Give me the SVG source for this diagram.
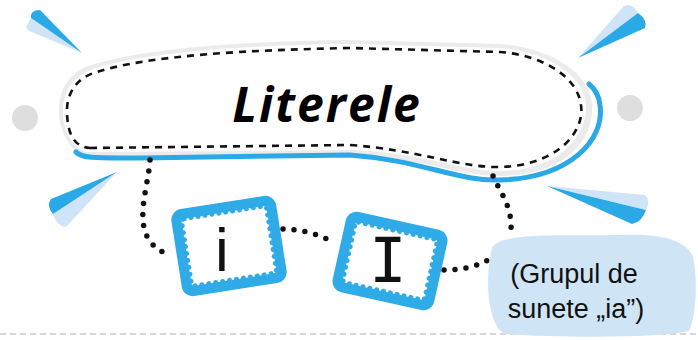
<svg xmlns="http://www.w3.org/2000/svg" width="698" height="340" viewBox="0 0 698 340">
<defs>
<style>
.blue{fill:#2aa9e6}
.pale{fill:#cfe4f6}
.dots{fill:none;stroke:#111;stroke-width:5.5;stroke-linecap:round;stroke-dasharray:0 11}
.frame{fill:#2fabe8}
.inner{fill:#fff;stroke:#2fabe8;stroke-width:5;stroke-linecap:round;stroke-dasharray:0 7}
.title{font-family:"Open Sans","Liberation Sans",sans-serif;font-weight:bold;font-style:italic;font-size:48px;letter-spacing:2px;fill:#000}
.note{font-family:"Liberation Sans",sans-serif;font-size:27px;fill:#111}
</style>
</defs>
<rect width="698" height="340" fill="#fff"/>
<line x1="0" y1="334" x2="698" y2="334" stroke="#c9c9c9" stroke-width="1.5" stroke-dasharray="6 4"/>
<g id="decor">
<circle cx="25" cy="118" r="13" fill="#dedede"/>
<circle cx="630" cy="108" r="13" fill="#dedede"/>
<path class="pale" d="M82,53 L31,18 L26,27 Q28,31 34,33 Z"/>
<path class="blue" d="M82,53 L31,18 Q30,10 40,10 Z"/>
<path class="pale" d="M578,58 L638,13 Q632,2 624,6 Z"/>
<path class="blue" d="M578,58 L638,13 Q648,20 645,28 Z"/>
<path class="pale" d="M117,172 L53,214 Q56,226 66,227 Z"/>
<path class="blue" d="M117,172 L53,214 Q46,206 51,199 Z"/>
<path class="pale" d="M547,186 L646,210 Q651,200 645,195 Z"/>
<path class="blue" d="M547,186 L646,210 Q642,222 632,224 Z"/>
</g>
<g id="title">
<path d="M84,158 C70,150 58,130 59,108 C60,88 70,70 95,64 C150,48 250,41 350,40 L500,44 C550,48 590,72 592,105 C594,140 565,175 500,176 C460,176 420,158 350,154 L100,156 Z" fill="#ebebeb"/>
<path d="M88,152 C72,148 62,130 63,110 C63,92 72,76 96,68 C150,52 250,45 350,44 L500,48 C545,51 585,75 586,105 C587,135 560,171 500,171 C460,171 420,152 350,150 L100,152 Z" fill="#fff"/>
<path d="M90,148 L350,145 C420,150 460,168 500,167 C560,165 585,130 581,105 C577,75 540,55 500,52 L350,48 C250,50 150,55 97,72 C75,78 67,95 67,110 C67,130 72,147 90,148 Z" fill="none" stroke="#111" stroke-width="2.6" stroke-dasharray="7 6"/>
<path d="M76,152 C82,159 100,158 140,158 L350,155 C420,160 460,182 500,180 C570,178 605,140 600,105 C599,96 595,89 589,84" fill="none" stroke="#2aa9e6" stroke-width="5" stroke-linecap="round"/>
<text class="title" x="327" y="122" text-anchor="middle">Literele</text>
</g>
<g id="connectors">
<path class="dots" d="M150,160 C148,192 128,236 165,253"/>
<path class="dots" d="M283,229 C300,229 318,234 331,241"/>
<path class="dots" d="M444,270 C462,270 480,266 491,258"/>
<path class="dots" d="M493,176 C500,192 512,206 511,229"/>
</g>
<g id="box-i" transform="translate(229,246) rotate(-9)">
<rect class="frame" x="-53" y="-44" width="106" height="88" rx="11"/>
<rect class="inner" x="-43" y="-34" width="86" height="68" rx="3"/>
</g>
<text x="222" y="271" font-family="Liberation Sans,sans-serif" font-size="62" text-anchor="middle" fill="#111">i</text>
<g id="box-I" transform="translate(390,261) rotate(12.5)">
<rect class="frame" x="-52" y="-41" width="104" height="82" rx="11"/>
<rect class="inner" x="-42" y="-31" width="84" height="62" rx="3"/>
</g>
<text x="388" y="282" font-family="DejaVu Sans Mono,monospace" font-size="62" text-anchor="middle" fill="#111">I</text>
<g id="note">
<path d="M492,248 C500,232 560,236 620,235 C660,233 692,240 694,262 C698,290 695,318 689,331 C660,338 560,338 505,334 C488,326 484,280 492,248 Z" fill="#cfe5f6"/>
<text class="note" x="574" y="283" text-anchor="middle">(Grupul de</text>
<text class="note" x="576" y="318" text-anchor="middle">sunete „ia”)</text>
</g>
</svg>
